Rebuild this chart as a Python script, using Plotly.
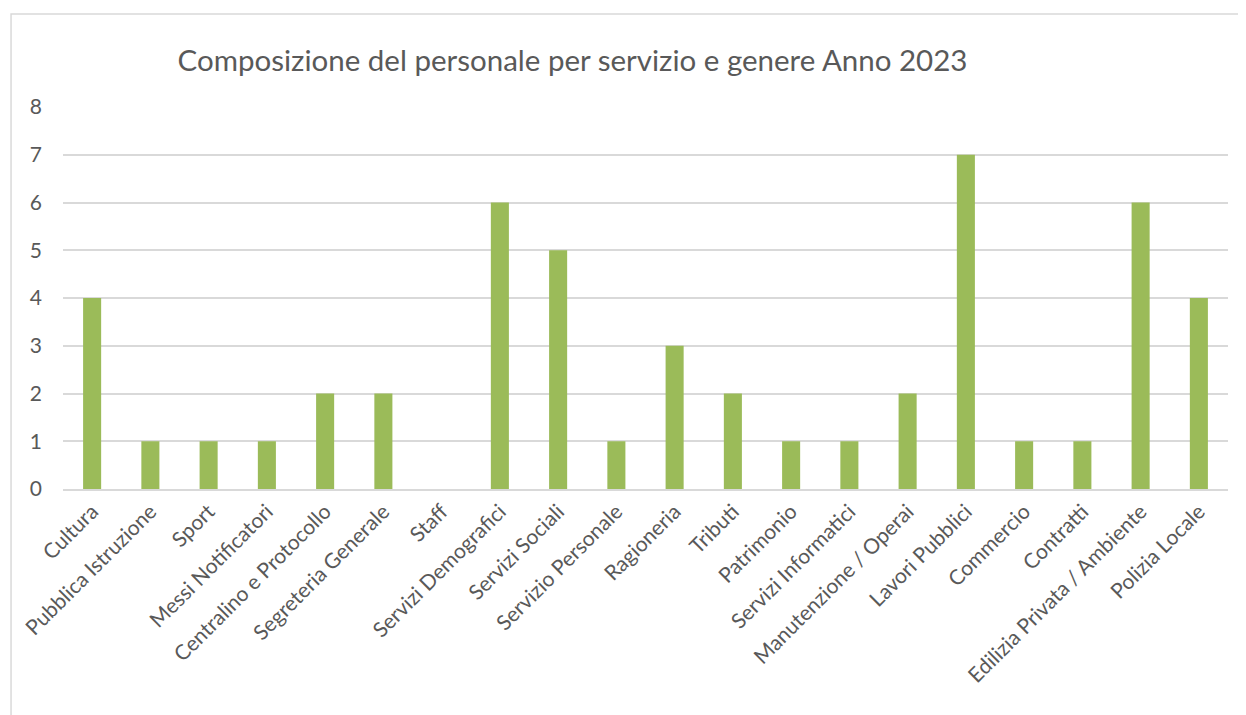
import plotly.graph_objects as go

servizi = ['Cultura', 'Pubblica Istruzione', 'Sport', 'Messi Notificatori',
           'Centralino e Protocollo', 'Segreteria Generale', 'Staff',
           'Servizi Demografici', 'Servizi Sociali', 'Servizio Personale',
           'Ragioneria', 'Tributi', 'Patrimonio', 'Servizi Informatici',
           'Manutenzione / Operai', 'Lavori Pubblici', 'Commercio',
           'Contratti', 'Edilizia Privata / Ambiente', 'Polizia Locale']
personale = [4, 1, 1, 1, 2, 2, 0, 6, 5, 1, 3, 2, 1, 1, 2, 7, 1, 1, 6, 4]
valori_asse = [0, 1, 2, 3, 4, 5, 6, 7, 8]

grigio = '#595959'
font_nome = 'Lato, Open Sans, sans-serif'

fig = go.Figure()

fig.add_trace(
    go.Bar(
        x=servizi,
        y=personale,
        marker=dict(color='#9BBB59', line=dict(width=0)),
    )
)

# la pagina ha un margine di 8px attorno al grafico
fig.update_layout(
    width=1238,
    height=707,
    margin={'t': 99, 'r': 18, 'b': 226, 'l': 53},
    paper_bgcolor='white',
    plot_bgcolor='white',
    bargap=0.69,
    showlegend=False,
    font=dict(family=font_nome, color=grigio, size=21),
    title=dict(
        text='Composizione del personale per servizio e genere Anno 2023',
        x=0.456, xanchor='center', y=0.926, yanchor='middle',
        font=dict(size=29.5, color=grigio, family=font_nome),
    ),
    xaxis=dict(
        tickangle=-45,
        showgrid=False,
        showline=True,
        linecolor='#D9D9D9',
        linewidth=2,
        tickfont=dict(size=21, color=grigio),
    ),
    yaxis=dict(
        range=[0, 8],
        tickvals=valori_asse,
        showgrid=True,
        gridcolor='#D9D9D9',
        gridwidth=1.5,
        zeroline=False,
        ticklabelstandoff=20,
        tickfont=dict(size=21, color=grigio),
    ),
)

# bordo dell'area del grafico
fig.add_shape(
    type='rect', xref='paper', yref='paper',
    x0=-0.0446, x1=1.1, y0=-1.0, y1=1.2435,
    line=dict(color='#D9D9D9', width=1.5),
    layer='below',
)

fig.write_html('out.html')
